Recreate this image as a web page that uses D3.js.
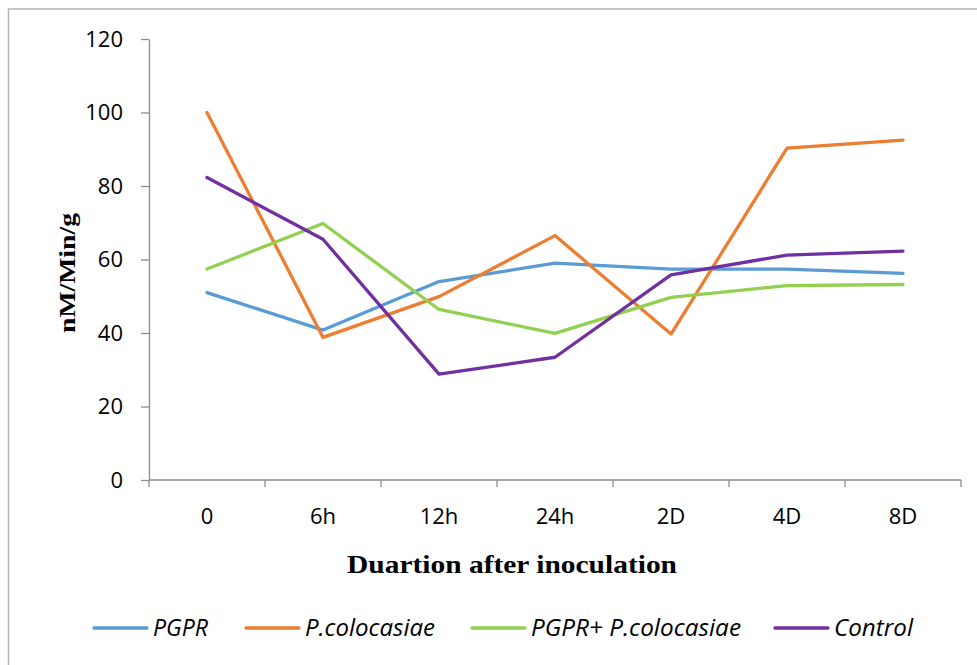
<!DOCTYPE html>
<html>
<head>
<meta charset="utf-8">
<script src="https://cdn.jsdelivr.net/npm/d3@7"></script>
<style>
  html, body { margin: 0; padding: 0; background: #fff; }
  svg { display: block; }
</style>
</head>
<body>
<svg id="chart" width="977" height="665"></svg>
<script>
// Sampling times after inoculation
const categories = ["0", "6h", "12h", "24h", "2D", "4D", "8D"];

// Enzyme activity (nM/Min/g) per treatment
const pgpr        = [51.0, 40.8, 54.0, 59.0, 57.4, 57.4, 56.2];
const colocasiae  = [100.0, 38.8, 49.9, 66.5, 39.7, 90.3, 92.5];
const pgprColo    = [57.4, 69.8, 46.4, 39.9, 49.7, 52.9, 53.2];
const control     = [82.3, 65.5, 28.8, 33.4, 55.8, 61.2, 62.3];

const seriesNames = ["PGPR", "P.colocasiae", "PGPR+ P.colocasiae", "Control"];
const seriesColors = ["#5B9BD5", "#ED7D31", "#92D050", "#7030A0"];

const yTicks = [0, 20, 40, 60, 80, 100, 120];

const series = [pgpr, colocasiae, pgprColo, control].map((values, i) => ({
  name: seriesNames[i],
  color: seriesColors[i],
  values
}));

const svg = d3.select("#chart");
const tickFont = "'Open Sans', 'DejaVu Sans', sans-serif";
const titleFont = "'Liberation Serif', 'DejaVu Serif', serif";
const axisColor = "#8C8C8C";

// Outer frame of the chart area
svg.append("rect")
  .attr("x", 8.5).attr("y", 9)
  .attr("width", 1000).attr("height", 700)
  .attr("fill", "none")
  .attr("stroke", "#B4B4B4")
  .attr("stroke-width", 1.5);

const x = d3.scaleBand().domain(categories).range([149, 961]).paddingInner(0).paddingOuter(0);
const y = d3.scaleLinear().domain([0, 120]).range([480, 39]);

// Y axis
const yAxis = svg.append("g")
  .attr("transform", "translate(149,0)")
  .call(d3.axisLeft(y).tickValues(yTicks).tickSize(8).tickPadding(18).tickSizeOuter(0));
yAxis.select(".domain").attr("stroke", axisColor).attr("stroke-width", 1.3);
yAxis.selectAll(".tick line").attr("stroke", axisColor).attr("stroke-width", 1.3);
yAxis.selectAll(".tick text")
  .attr("font-family", tickFont)
  .attr("font-size", 22)
  .attr("fill", "#000");

// X axis: baseline with ticks on category boundaries, labels centred in each band
const xAxis = svg.append("g").attr("class", "x-axis");
xAxis.append("line")
  .attr("x1", x.range()[0]).attr("x2", x.range()[1])
  .attr("y1", y(0)).attr("y2", y(0))
  .attr("stroke", axisColor).attr("stroke-width", 1.3);
const boundaries = categories.map(c => x(c)).concat([x.range()[1]]);
xAxis.selectAll("line.bt")
  .data(boundaries)
  .join("line")
  .attr("class", "bt")
  .attr("x1", d => d).attr("x2", d => d)
  .attr("y1", y(0)).attr("y2", y(0) + 7)
  .attr("stroke", axisColor).attr("stroke-width", 1.3);
xAxis.selectAll("text")
  .data(categories)
  .join("text")
  .attr("x", d => x(d) + x.bandwidth() / 2)
  .attr("y", 524)
  .attr("text-anchor", "middle")
  .attr("font-family", tickFont)
  .attr("font-size", 22)
  .attr("fill", "#000")
  .text(d => d);

// Axis titles
svg.append("text")
  .attr("x", 512).attr("y", 573)
  .attr("text-anchor", "middle")
  .attr("font-family", titleFont)
  .attr("font-weight", "bold")
  .attr("font-size", 25)
  .attr("textLength", 330)
  .attr("lengthAdjust", "spacingAndGlyphs")
  .text("Duartion after inoculation");

svg.append("text")
  .attr("transform", "translate(75,273) rotate(-90)")
  .attr("text-anchor", "middle")
  .attr("font-family", titleFont)
  .attr("font-weight", "bold")
  .attr("font-size", 24)
  .attr("textLength", 120)
  .attr("lengthAdjust", "spacingAndGlyphs")
  .text("nM/Min/g");

// Series lines
const line = d3.line()
  .x((d, i) => x(categories[i]) + x.bandwidth() / 2)
  .y(d => y(d));

svg.append("g").selectAll("path")
  .data(series)
  .join("path")
  .attr("d", d => line(d.values))
  .attr("fill", "none")
  .attr("stroke", d => d.color)
  .attr("stroke-width", 3.3)
  .attr("stroke-linejoin", "round")
  .attr("stroke-linecap", "round");

// Legend
const legendX = [94, 246, 472, 775];
const legendW = [55, 130, 210, 79];
const legend = svg.append("g").selectAll("g")
  .data(series)
  .join("g")
  .attr("transform", (d, i) => `translate(${legendX[i]},628)`);
legend.append("line")
  .attr("x1", 0).attr("x2", 53)
  .attr("y1", 0).attr("y2", 0)
  .attr("stroke", d => d.color)
  .attr("stroke-width", 3.3)
  .attr("stroke-linecap", "round");
legend.append("text")
  .attr("x", 59).attr("y", 8)
  .attr("font-family", tickFont)
  .attr("font-style", "italic")
  .attr("font-size", 23)
  .attr("textLength", (d, i) => legendW[i])
  .attr("lengthAdjust", "spacingAndGlyphs")
  .attr("fill", "#000")
  .text(d => d.name);
</script>
</body>
</html>
